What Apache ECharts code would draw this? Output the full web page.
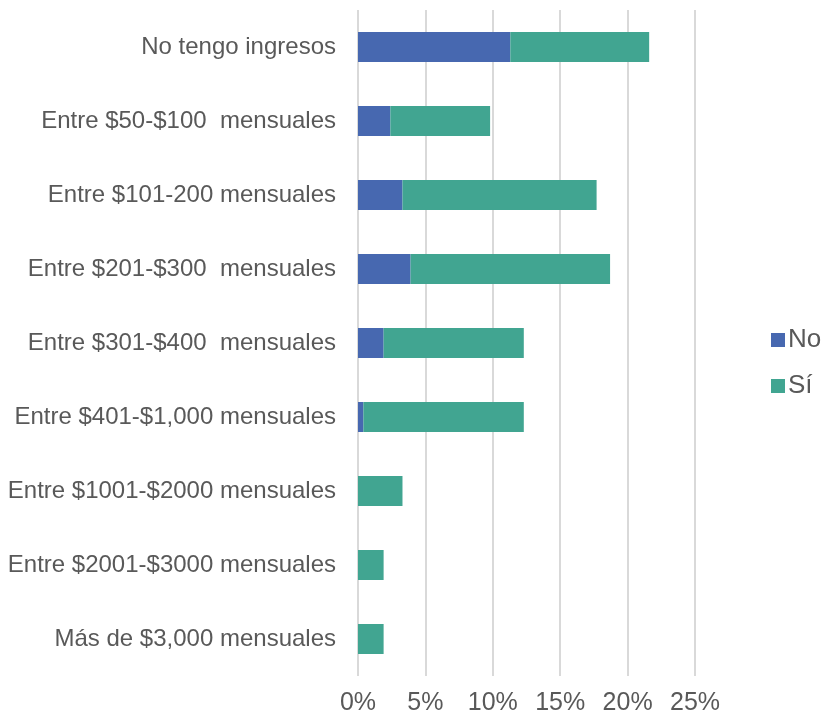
<!DOCTYPE html>
<html>
<head>
<meta charset="utf-8">
<script src="https://cdn.jsdelivr.net/npm/echarts@6/dist/echarts.min.js"></script>
<style>
  html, body { margin: 0; padding: 0; background: #fff; }
  #chart { width: 825px; height: 719px; }
</style>
</head>
<body>
<div id="chart"></div>
<script>
// Income brackets, top to bottom as drawn
const categories = [
  'No tengo ingresos',
  'Entre $50-$100  mensuales',
  'Entre $101-200 mensuales',
  'Entre $201-$300  mensuales',
  'Entre $301-$400  mensuales',
  'Entre $401-$1,000 mensuales',
  'Entre $1001-$2000 mensuales',
  'Entre $2001-$3000 mensuales',
  'Más de $3,000 mensuales'
];

// Share of respondents (%) per answer
const noValues = [11.3, 2.4, 3.3, 3.9, 1.9, 0.4, 0, 0, 0];
const siValues = [10.3, 7.4, 14.4, 14.8, 10.4, 11.9, 3.3, 1.9, 1.9];

// Axis ticks (%)
const xTicks = [0, 5, 10, 15, 20, 25];

const textColor = '#595959';
const fontFamily = '"Liberation Sans", Arial, sans-serif';

const chart = echarts.init(document.getElementById('chart'));
chart.setOption({
  animation: false,
  textStyle: { fontFamily: fontFamily },
  grid: { left: 358, right: 130, top: 10, bottom: 43 },
  legend: {
    orient: 'vertical',
    left: 766,
    top: 322,
    itemWidth: 14,
    itemHeight: 14,
    itemGap: 20,
    icon: 'rect',
    textStyle: { color: textColor, fontSize: 26, fontFamily: fontFamily, padding: [0, 0, 0, -2] },
    data: ['No', 'Sí']
  },
  xAxis: {
    type: 'value',
    min: xTicks[0],
    max: xTicks[xTicks.length - 1],
    interval: 5,
    axisLine: { show: false },
    axisTick: { show: false },
    splitLine: { show: true, lineStyle: { color: '#d9d9d9', width: 2 } },
    axisLabel: {
      color: textColor,
      fontSize: 25,
      margin: 15,
      formatter: v => v + '%'
    }
  },
  yAxis: {
    type: 'category',
    inverse: true,
    data: categories,
    axisLine: { show: false },
    axisTick: { show: false },
    axisLabel: { color: textColor, fontSize: 24, margin: 22 }
  },
  series: [
    {
      name: 'No',
      type: 'bar',
      stack: 'total',
      barWidth: 30,
      itemStyle: { color: '#4768b0' },
      data: noValues
    },
    {
      name: 'Sí',
      type: 'bar',
      stack: 'total',
      barWidth: 30,
      itemStyle: { color: '#41a591' },
      data: siValues
    }
  ]
});
</script>
</body>
</html>
